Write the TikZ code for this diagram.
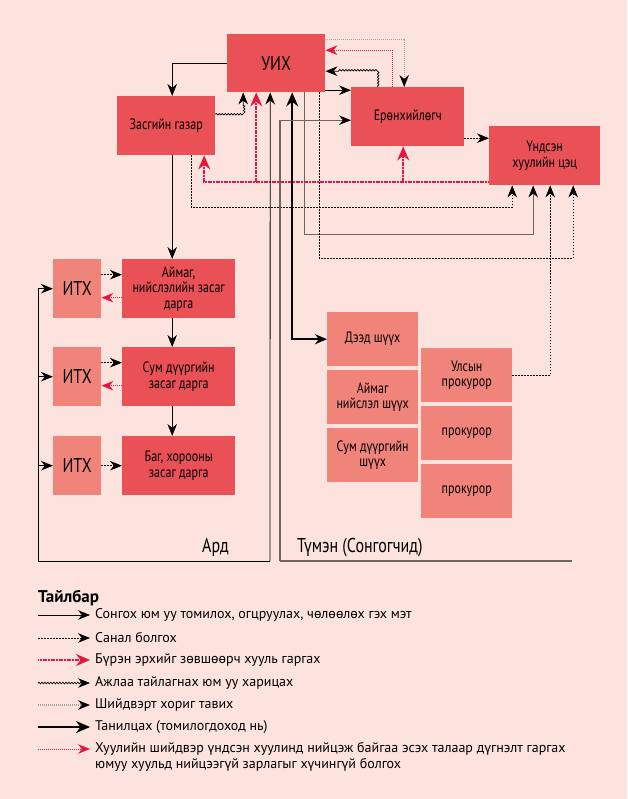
\documentclass[tikz,border=0pt]{standalone}
\usepackage{fontspec}
\setmainfont{PT Sans}
\newfontfamily\condfont{PT Sans}[FakeStretch=0.8]
\usetikzlibrary{arrows.meta,decorations.pathmorphing}
\definecolor{ChartBack}{HTML}{FDE3DE}
\definecolor{ChartDark}{HTML}{E95157}
\definecolor{ChartLight}{HTML}{F0837A}
\definecolor{ChartRed}{HTML}{E5173F}
\definecolor{ChartGray}{HTML}{6E6462}

\begin{document}
\begin{tikzpicture}[x=1pt,y=-1pt,>={Stealth[length=12pt,width=9.5pt]},
  obox/.style={fill=ChartDark,anchor=north west,inner sep=0pt,align=center,font=\condfont\fontsize{15}{15.5}\selectfont},
  lbox/.style={obox,fill=ChartLight},
  big/.style={font=\condfont\fontsize{20}{22}\selectfont},
  wire/.style={line width=.8pt},
  sel/.style={wire,->},
  prop/.style={line width=.7pt,dash pattern=on 1.5pt off 1.5pt,->},
  law/.style={ChartRed,line width=2pt,dash pattern=on 1.2pt off .4pt,-{Stealth[length=14pt,width=12pt]}},
  report/.style={line width=.7pt,decorate,decoration={snake,amplitude=.8pt,segment length=3pt,post length=12pt},->},
  veto/.style={ChartGray!60,line width=1.3pt,dash pattern=on 1pt off 1pt,-{Stealth[length=12pt,width=9.5pt,color=black]}},
  intro/.style={line width=1.8pt,-{Stealth[length=14pt,width=12pt]}},
  review/.style={ChartRed,line width=.8pt,dash pattern=on 1pt off 1pt,->},
  grayline/.style={ChartGray,line width=1.2pt},
  graysel/.style={grayline,-{Stealth[length=12pt,width=9.5pt,color=black]}},
  legtext/.style={anchor=west,inner sep=1pt,font=\fontsize{14}{16}\selectfont}]
  \fill[ChartBack] (0,0) rectangle (627,799);
  % top level
  \node[obox,big,minimum width=98,minimum height=58] (uih) at (227,34) {УИХ};
  \node[obox,minimum width=98,minimum height=59] (zg) at (117,96) {Засгийн газар};
  \node[obox,minimum width=113,minimum height=59] (pres) at (351,87) {Ерөнхийлөгч};
  \node[obox,minimum width=111,minimum height=59] (tsets) at (489,126) {Үндсэн\\хуулийн цэц};
  % local government
  \foreach \n/\y/\txt in {1/259/{Аймаг,\\нийслэлийн засаг\\дарга},2/347/{Сум дүүргийн\\засаг дарга},3/436/{Баг, хорооны\\засаг дарга}}{
    \node[lbox,big,minimum width=48,minimum height=59] (itx\n) at (53,\y) {ИТХ};
    \node[obox,minimum width=113,minimum height=59] (darga\n) at (122,\y) {\txt};}
  % courts and prosecutors
  \foreach \n/\y/\txt in {1/312/{Дээд шүүх},2/370/{Аймаг\\нийслэл шүүх},3/428/{Сум дүүргийн\\шүүх}}{
    \node[lbox,minimum width=91,minimum height=54] (court\n) at (327,\y) {\txt};}
  \foreach \n/\y/\txt in {1/348/{Улсын\\прокурор},2/406/{прокурор},3/464/{прокурор}}{
    \node[lbox,minimum width=91,minimum height=54] (pros\n) at (421,\y) {\txt};}
  \node[font=\condfont\fontsize{20}{22}\selectfont,anchor=base east,inner sep=0pt] (ardlabel) at (229,552) {Ард};
  \node[font=\condfont\fontsize{20}{22}\selectfont,anchor=base west,inner sep=0pt] (tumenlabel) at (297,552) {Түмэн (Сонгогчид)};

  % connectors
  \draw[sel] (uih.west) -| ([xshift=6pt]zg.north);
  \draw[sel] ([xshift=6pt]zg.south) -- ([xshift=-6.5pt]darga1.north);
  \draw[sel] ([xshift=-6.5pt]darga1.south) -- ([xshift=-6.5pt]darga2.north);
  \draw[sel] ([xshift=-6.5pt]darga2.south) -- ([xshift=-6.5pt]darga3.north);
  \foreach \n in {1,2}{\draw[prop] ([yshift=14pt]itx\n.east) -- ([yshift=14pt]darga\n.west);\draw[review] ([yshift=-9pt]darga\n.west) -- ([yshift=-9pt]itx\n.east);}
  \draw[prop] (itx3.east) -- (darga3.west);
  \draw[sel] ([yshift=-27pt]uih.east) -- ([yshift=26.5pt]pres.west);
  \draw[veto] ([yshift=24pt]uih.east) -| ([xshift=-3.5pt]pres.north);
  \draw[review] ([xshift=-15.5pt]pres.north) |- ([yshift=13pt]uih.east);
  \draw[report] ([xshift=-29.5pt]pres.north) |- ([yshift=-8pt]uih.east);
  \draw[report] ([yshift=11.5pt]zg.east) -| ([xshift=-33pt]uih.south);
  \coordinate (presout) at ([yshift=-21.5pt]pres.east);
  \draw[prop] (presout) -- (presout -| tsets.west);
  % constitutional court
  \coordinate (lawbus) at ([yshift=-26.5pt]tsets.west);
  \coordinate (lawuih) at ([xshift=-20pt]uih.south);
  \coordinate (lawpres) at ([xshift=-4.5pt]pres.south);
  \draw[law] (lawbus) -| ([xshift=38pt]zg.south);
  \draw[law] (lawuih |- lawbus) -- (lawuih);
  \draw[law] (lawpres |- lawbus) -- (lawpres);
  \draw[prop] ([xshift=25pt]zg.south) -- ++(0,52) -| ([xshift=-32.5pt]tsets.south);
  \draw[graysel] ([xshift=28pt]uih.south) -- ++(0,142) -| ([xshift=-11.5pt]tsets.south);
  \draw[prop] ([xshift=43pt]uih.south) -- ++(0,166) -| ([xshift=28.5pt]tsets.south);
  \draw[prop] (pros1.east) -| ([xshift=5.5pt]tsets.south);
  \draw[intro,{Stealth[length=12pt,width=10pt]}-{Stealth[length=14pt,width=12pt]}] (court1.west) -| ([xshift=16pt]uih.south);
  % voters
  \coordinate (ardfoot) at (270,561); \coordinate (ardcorner) at (38,561);
  \coordinate (tumenfoot) at (280,561); \coordinate (tumenend) at (572,561);
  \draw[wire] (ardfoot) -- (ardcorner);
  \draw[sel] (ardfoot) -- ([xshift=-6pt]uih.south);
  \draw[sel] (ardcorner) |- (itx1.west);
  \draw[sel] (ardcorner |- itx2.west) -- (itx2.west);
  \draw[sel] (ardcorner |- itx3.west) -- (itx3.west);
  \draw[grayline] (tumenfoot) -- (tumenend);
  \draw[graysel] (tumenfoot) |- ([yshift=-3.5pt]pres.west);

  % legend
  \node[font=\bfseries\fontsize{17}{20}\selectfont,anchor=base west,inner sep=0pt] (legtitle) at (38,602) {Тайлбар};
  \foreach \st/\y/\txt [count=\i] in {sel/615/{Сонгох юм уу томилох, огцруулах, чөлөөлөх гэх мэт},prop/638/{Санал болгох},law/660/{Бүрэн эрхийг зөвшөөрч хууль гаргах},report/683/{Ажлаа тайлагнах юм уу харицах},veto/705/{Шийдвэрт хориг тавих},intro/727/{Танилцах (томилогдоход нь)},review/749/{Хуулийн шийдвэр үндсэн хуулинд нийцэж байгаа эсэх талаар дүгнэлт гаргах}}{
    \node[legtext] (leg\i) at (94,\y) {\txt};
    \coordinate (legstart\i) at (38,\y);
    \draw[\st,shorten >=4pt] (legstart\i) -- (leg\i.west);}
  \node[legtext,anchor=north west] (legmore) at (leg7.south west) {юмуу хуульд нийцээгүй зарлагыг хүчингүй болгох};
\end{tikzpicture}
\end{document}
